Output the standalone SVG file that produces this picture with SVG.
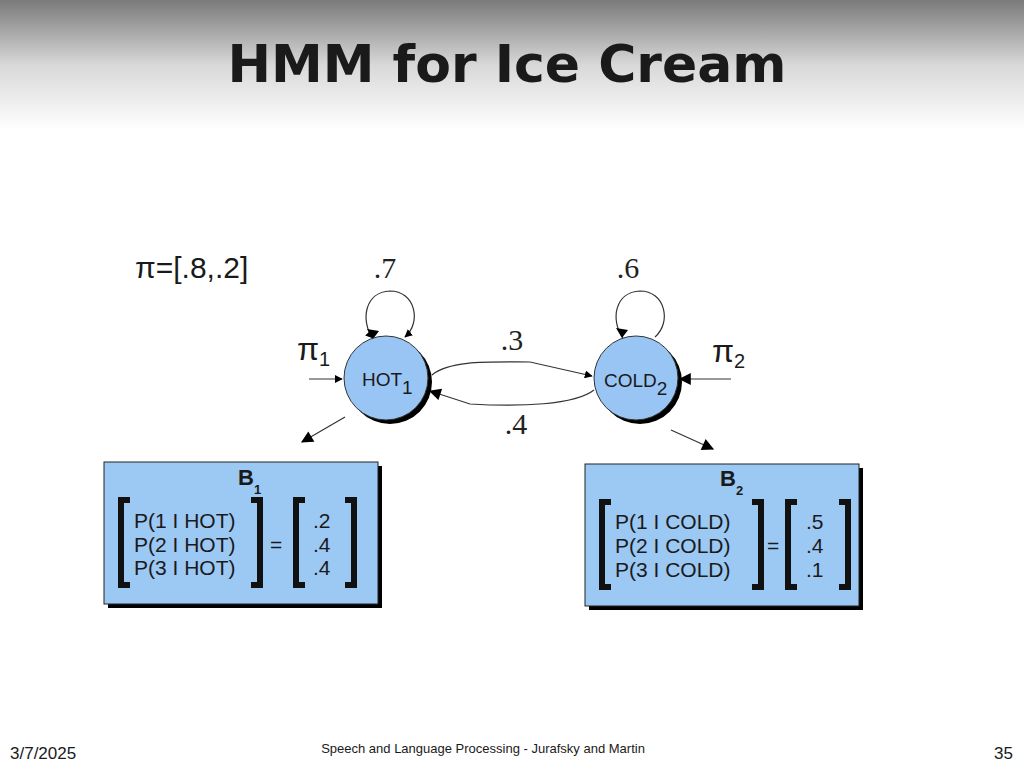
<svg xmlns="http://www.w3.org/2000/svg" width="1024" height="768" viewBox="0 0 1024 768">
<defs>
<linearGradient id="bg" x1="0" y1="0" x2="0" y2="1"><stop offset="0" stop-color="#7a7a7a"/><stop offset="0.5" stop-color="#d8d8d8"/><stop offset="1" stop-color="#ffffff"/></linearGradient>
<marker id="ah" viewBox="0 0 10 10" refX="9" refY="5" markerWidth="8" markerHeight="8" orient="auto" markerUnits="userSpaceOnUse"><path d="M0,0 L10,5 L0,10 z" fill="#000"/></marker>
<marker id="ahb" viewBox="0 0 10 10" refX="9" refY="5" markerWidth="14" markerHeight="12" orient="auto" markerUnits="userSpaceOnUse"><path d="M0,0 L10,5 L0,10 z" fill="#000"/></marker>
</defs>
<style>
.s{font-family:"Liberation Sans",Arial,sans-serif;fill:#1a1a1a}
.t{font-family:"Liberation Serif","Times New Roman",serif;fill:#222}
.c{fill:#99c5f5;stroke:#333;stroke-width:1}
.sh{fill:#000}
.ln{fill:none;stroke:#333;stroke-width:1.2}
.br{fill:none;stroke:#111;stroke-width:6}
.box{fill:#9cc8f4;stroke:#222;stroke-width:1}
</style>
<rect width="1024" height="130" fill="url(#bg)"/>
<text x="507" y="82" text-anchor="middle" font-family="DejaVu Sans,Verdana,sans-serif" font-weight="bold" font-size="52" fill="#1a1a1a">HMM for Ice Cream</text>
<text x="135" y="278" class="s" font-size="30">π=[.8,.2]</text>
<g id="connectors">
<path class="ln" d="M373,339 C360,320 365,292 390,291 C415,291 422,322 405,337" marker-end="url(#ah)" transform="translate(0,0)"/>
<path class="ln" d="M408,336 C420,325 418,297 390,292 C365,292 356,320 373,338" marker-end="url(#ah)" stroke-opacity="0"/>
<path class="ln" d="M623,338 C610,320 615,292 640,291 C665,291 672,322 655,337"/>
<path class="ln" d="M432,375 C450,360 490,362 530,362 L592,376" marker-end="url(#ah)"/>
<path class="ln" d="M594,390 C575,405 520,407 470,404 L430,391" marker-end="url(#ahb)"/>
<path class="ln" d="M309,379 L342,379" marker-end="url(#ah)"/>
<path class="ln" d="M731,379 L680,379" marker-end="url(#ahb)"/>
<path class="ln" d="M345,417 L302,442" marker-end="url(#ahb)" stroke="#000" stroke-width="2"/>
<path class="ln" d="M671,430 L713,449" marker-end="url(#ahb)" stroke="#000" stroke-width="2"/>
<path d="M373,339 l-6,-10 l12,2 z" fill="#000"/>
<path d="M622,338 l-6,-10 l12,2 z" fill="#000"/>
</g>
<text x="385" y="278" class="t" font-size="30" text-anchor="middle">.7</text>
<text x="628" y="278" class="t" font-size="30" text-anchor="middle">.6</text>
<text x="512" y="350" class="t" font-size="30" text-anchor="middle">.3</text>
<text x="516" y="434" class="t" font-size="30" text-anchor="middle">.4</text>
<text x="297" y="360" class="s" font-size="32">π<tspan font-size="20" dy="6">1</tspan></text>
<text x="712" y="362" class="s" font-size="32">π<tspan font-size="20" dy="6">2</tspan></text>
<g id="hot">
<circle cx="390" cy="382" r="42" class="sh"/>
<circle cx="386" cy="378" r="42" class="c"/>
<text x="362" y="386" class="s" font-size="19">HOT<tspan font-size="19" dy="8">1</tspan></text>
</g>
<g id="cold">
<circle cx="640" cy="382" r="42" class="sh"/>
<circle cx="636" cy="378" r="42" class="c"/>
<text x="604" y="387" class="s" font-size="19">COLD<tspan font-size="19" dy="8">2</tspan></text>
</g>
<g id="b1">
<rect x="108" y="466" width="274" height="142" class="sh"/>
<rect x="104" y="462" width="274" height="142" class="box"/>
<text x="238" y="485" class="s" font-size="22" font-weight="bold">B<tspan font-size="13" dy="9">1</tspan></text>
<path class="br" d="M130,500 H121 V585 H130"/>
<path class="br" d="M251,500 H260 V585 H251"/>
<text x="134" y="528" class="s" font-size="21">P(1 I HOT)</text>
<text x="134" y="552" class="s" font-size="21">P(2 I HOT)</text>
<text x="134" y="575" class="s" font-size="21">P(3 I HOT)</text>
<text x="270" y="552" class="s" font-size="21">=</text>
<path class="br" d="M305,500 H296 V585 H305"/>
<path class="br" d="M345,500 H354 V585 H345"/>
<text x="313" y="528" class="s" font-size="21">.2</text>
<text x="313" y="552" class="s" font-size="21">.4</text>
<text x="313" y="575" class="s" font-size="21">.4</text>
</g>
<g id="b2">
<rect x="589" y="468" width="274" height="142" class="sh"/>
<rect x="585" y="464" width="274" height="142" class="box"/>
<text x="720" y="486" class="s" font-size="22" font-weight="bold">B<tspan font-size="13" dy="9">2</tspan></text>
<path class="br" d="M611,502 H602 V587 H611"/>
<path class="br" d="M752,502 H761 V587 H752"/>
<text x="615" y="529" class="s" font-size="21">P(1 I COLD)</text>
<text x="615" y="553" class="s" font-size="21">P(2 I COLD)</text>
<text x="615" y="577" class="s" font-size="21">P(3 I COLD)</text>
<text x="767" y="553" class="s" font-size="21">=</text>
<path class="br" d="M797,502 H788 V587 H797"/>
<path class="br" d="M839,502 H848 V587 H839"/>
<text x="806" y="529" class="s" font-size="21">.5</text>
<text x="806" y="553" class="s" font-size="21">.4</text>
<text x="806" y="577" class="s" font-size="21">.1</text>
</g>
<text x="10" y="759" class="s" font-size="17">3/7/2025</text>
<text x="483" y="753" class="s" font-size="13" text-anchor="middle">Speech and Language Processing - Jurafsky and Martin</text>
<text x="1013" y="759" class="s" font-size="17" text-anchor="end">35</text>
</svg>
